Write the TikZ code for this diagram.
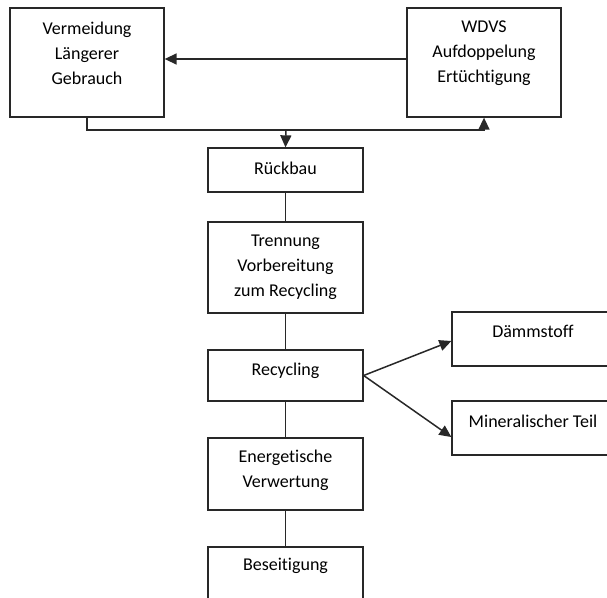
\documentclass[tikz,border=0pt]{standalone}
\usepackage{fontspec}
\setmainfont[Ligatures=NoCommon]{Carlito}
\usetikzlibrary{arrows.meta}
\definecolor{linec}{RGB}{40,40,40}
\tikzset{
  box/.style={draw=linec, line width=1.3pt, rectangle, inner sep=0pt},
  txt/.style={font=\fontsize{18pt}{25pt}\selectfont, align=center, inner sep=0pt, text=black},
  conn/.style={draw=linec, line width=1.5pt},
  arr/.style={conn, -{Triangle[length=12pt, width=11pt]}}
}
\begin{document}
\begin{tikzpicture}[x=1pt, y=-1pt]
\useasboundingbox (0,0) rectangle (607,597);
\clip (0,0) rectangle (607,597);
% boxes
\node[box, minimum width=154pt, minimum height=109pt] (a) at (87,62.5) {};
\node[txt] (at) at (87,53) {Vermeidung\\Längerer\\Gebrauch};
\node[box, minimum width=154pt, minimum height=109pt] (b) at (484,62.5) {};
\node[txt] (bt) at (484,53) {WDVS\\Aufdoppelung\\Ertüchtigung};
\node[box, minimum width=155pt, minimum height=44pt] (r) at (285.5,170) {};
\node[txt] (rt) at (285.5,168) {Rückbau};
\node[box, minimum width=155pt, minimum height=91pt] (t) at (285.5,267.5) {};
\node[txt] (tt) at (285.5,267) {Trennung\\Vorbereitung\\zum Recycling};
\node[box, minimum width=155pt, minimum height=51pt] (c) at (285.5,375.5) {};
\node[txt] (ct) at (285.5,371) {Recycling};
\node[box, minimum width=155pt, minimum height=72pt] (e) at (285.5,474) {};
\node[txt] (et) at (285.5,470) {Energetische\\Verwertung};
\node[box, minimum width=155pt, minimum height=90pt] (s) at (285.5,592) {};
\node[txt] (st) at (285.5,566) {Beseitigung};
\node[box, minimum width=162pt, minimum height=54pt] (d) at (533,339) {};
\node[txt] (dt) at (533,331) {Dämmstoff};
\node[box, minimum width=162pt, minimum height=54pt] (m) at (533,428) {};
\node[txt] (mt) at (533,421) {Mineralischer Teil};
% connectors
\coordinate (j) at (286,130);
\draw[arr] ([yshift=3.5pt]b.west) -- ([yshift=3.5pt]a.east);
\draw[conn] (a.south) |- (j);
\draw[arr] (j) -| (b.south);
\draw[arr] (j) -- (r.north);
\draw[conn] (r.south) -- (t.north);
\draw[conn] (t.south) -- (c.north);
\draw[conn] (c.south) -- (e.north);
\draw[conn] (e.south) -- (s.north);
\draw[arr] (c.east) -- ([yshift=-2pt]d.west);
\draw[arr] (c.east) -- ([yshift=-9pt]m.west);
\end{tikzpicture}
\end{document}
